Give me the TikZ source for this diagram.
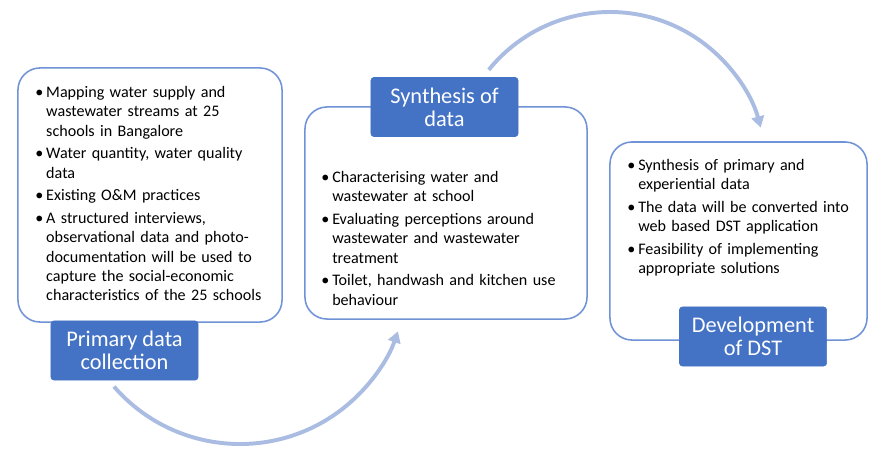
\documentclass[tikz,border=0pt]{standalone}
\usepackage{fontspec}
\setmainfont{Carlito}
\usepackage{xcolor}
\usetikzlibrary{arrows.meta}
\definecolor{boxline}{RGB}{112,146,214}
\definecolor{phasefill}{RGB}{68,114,196}
\definecolor{flowcol}{RGB}{170,188,226}
\newcommand{\nl}{\hfil\break}
\newcommand{\bitem}[1]{\par\hangindent=7.8pt\hangafter=1\noindent\makebox[7.8pt][l]{\textbullet}#1\par\vspace{2.5pt}}

\begin{document}
\begin{tikzpicture}[x=0.025cm, y=0.025cm,
  box/.style={draw=boxline, line width=1.1pt, rounded corners=0.55cm, fill=white},
  phase/.style={fill=phasefill, draw=phasefill, rounded corners=2pt, text=white, align=center,
    minimum width=3.675cm, minimum height=1.475cm, font={\fontsize{15.9}{16.6}\selectfont}},
  bullets/.style={anchor=north west, inner sep=0pt, text width=6.4cm, align=left,
    font={\fontsize{11.45}{13.7}\selectfont}},
  flow/.style={draw=flowcol, line width=2.8pt, -{Triangle[length=8pt,width=9pt]}}]
\useasboundingbox (0,0) rectangle (880,450);

\node[box, minimum width=6.6cm, minimum height=6.35cm] (box1) at (150,255) {};
\node[box, minimum width=7.05cm, minimum height=5.3cm] (box2) at (446,237) {};
\node[box, minimum width=6.425cm, minimum height=4.95cm] (box3) at (738.5,209) {};

\node[bullets] (list1) at (35,372) {%
\bitem{Mapping water supply and\nl wastewater streams at 25\nl schools in Bangalore}
\bitem{Water quantity, water quality\nl data}
\bitem{Existing O\&M practices}
\bitem{A structured interviews,\nl observational data and photo-\nl documentation will be used to\nl capture the social-economic\nl characteristics of the 25 schools}};
\node[bullets] (list2) at (321,287) {%
\bitem{Characterising water and\nl wastewater at school}
\bitem{Evaluating perceptions around\nl wastewater and wastewater\nl treatment}
\bitem{Toilet, handwash and kitchen use\nl behaviour}};
\node[bullets] (list3) at (627,299) {%
\bitem{Synthesis of primary and\nl experiential data}
\bitem{The data will be converted into\nl web based DST application}
\bitem{Feasibility of implementing\nl appropriate solutions}};

\node[phase] (primary) at (124.5,99.5) {Primary data\\collection};
\node[phase] (synth) at (444.5,343) {Synthesis of\\data};
\node[phase] (dst) at (753,113.5) {Development\\of DST};

\coordinate (c1) at (240,173);
\coordinate (c2) at (610,282);
\coordinate (a1) at ([shift={(221:167)}]c1);
\coordinate (a2) at ([shift={(141:156)}]c2);
\draw[flow] (a1) arc[start angle=221, end angle=341, radius=167];
\draw[flow] (a2) arc[start angle=141, end angle=15, radius=156];
\end{tikzpicture}
\end{document}
